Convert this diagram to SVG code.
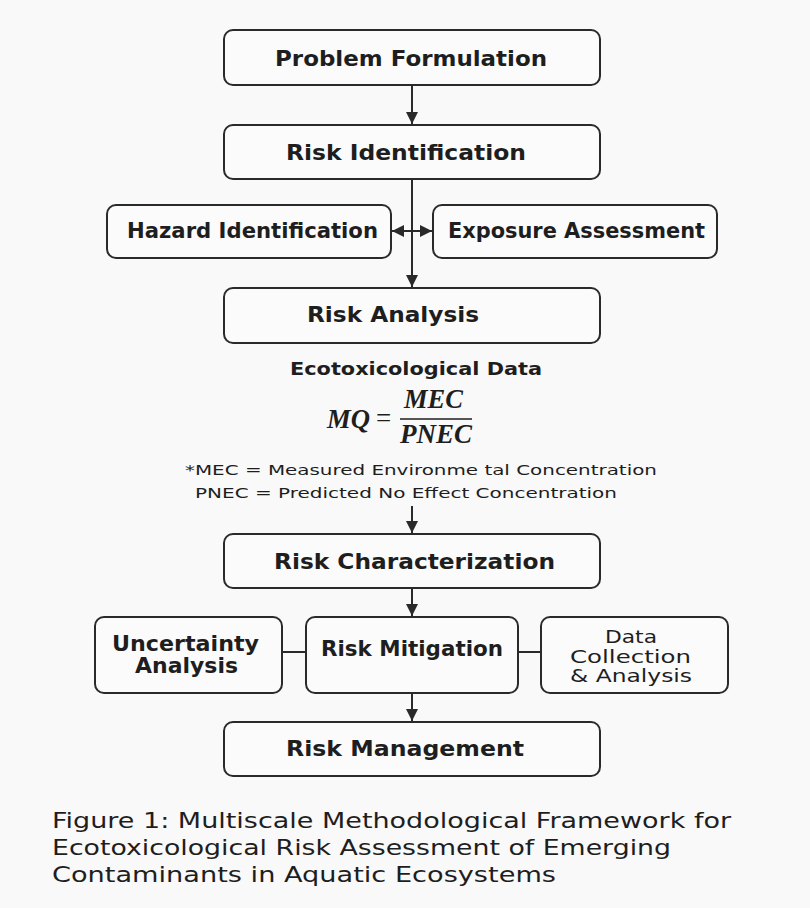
<svg xmlns="http://www.w3.org/2000/svg" width="810" height="908" viewBox="0 0 810 908">
<defs>
<style>
.box{fill:#fbfbfb;stroke:#2a2a2a;stroke-width:2}
.lbl{font-family:"DejaVu Sans","Liberation Sans",sans-serif;font-weight:700;font-size:21px;fill:#1e1e1e}
.reg{font-family:"DejaVu Sans","Liberation Sans",sans-serif;font-size:17px;fill:#1e1e1e}
.ln{stroke:#2a2a2a;stroke-width:2;fill:none}
.fm{font-family:"Liberation Serif",serif;font-weight:700;font-style:italic;font-size:27px;fill:#1e1e1e}
.note{font-family:"DejaVu Sans","Liberation Sans",sans-serif;font-size:14.5px;fill:#1e1e1e}
.cap{font-family:"DejaVu Sans","Liberation Sans",sans-serif;font-size:21px;fill:#1e1e1e}
</style>
<marker id="ah" viewBox="0 0 10 10" refX="10" refY="5" markerWidth="6" markerHeight="6" orient="auto-start-reverse" markerUnits="strokeWidth">
<path d="M0,0 L10,5 L0,10 z" fill="#2a2a2a"/>
</marker>
</defs>
<rect width="810" height="908" fill="#f9f9f9"/>
<g id="connectors">
<line class="ln" x1="412" y1="86" x2="412" y2="124" marker-end="url(#ah)"/>
<line class="ln" x1="412" y1="180" x2="412" y2="287" marker-end="url(#ah)"/>
<line class="ln" x1="392" y1="231" x2="432" y2="231" marker-start="url(#ah)" marker-end="url(#ah)"/>
<line class="ln" x1="412" y1="506" x2="412" y2="533" marker-end="url(#ah)"/>
<line class="ln" x1="412" y1="589" x2="412" y2="616" marker-end="url(#ah)"/>
<line class="ln" x1="282" y1="652" x2="306" y2="652"/>
<line class="ln" x1="518" y1="652" x2="541" y2="652"/>
<line class="ln" x1="412" y1="694" x2="412" y2="721" marker-end="url(#ah)"/>
</g>
<g id="problem-formulation"><rect class="box" x="224" y="30" width="376" height="55" rx="9"/><text class="lbl" x="275" y="66" textLength="272" lengthAdjust="spacingAndGlyphs">Problem Formulation</text></g>
<g id="risk-identification"><rect class="box" x="224" y="125" width="376" height="54" rx="9"/><text class="lbl" x="286" y="160" textLength="240" lengthAdjust="spacingAndGlyphs">Risk Identification</text></g>
<g id="hazard-identification"><rect class="box" x="107" y="205" width="284" height="53" rx="9"/><text class="lbl" x="127" y="238" textLength="251" lengthAdjust="spacingAndGlyphs">Hazard Identification</text></g>
<g id="exposure-assessment"><rect class="box" x="433" y="205" width="284" height="53" rx="9"/><text class="lbl" x="448" y="238" textLength="257" lengthAdjust="spacingAndGlyphs">Exposure Assessment</text></g>
<g id="risk-analysis"><rect class="box" x="224" y="288" width="376" height="55" rx="9"/><text class="lbl" x="307" y="322" textLength="172" lengthAdjust="spacingAndGlyphs">Risk Analysis</text></g>
<g id="ecotox-data">
<text class="lbl" x="290" y="375" style="font-size:18px" textLength="252" lengthAdjust="spacingAndGlyphs">Ecotoxicological Data</text>
<text class="fm" x="327" y="428" textLength="43" lengthAdjust="spacingAndGlyphs">MQ</text>
<text class="fm" x="376" y="427" style="font-style:normal;font-weight:400">=</text>
<line x1="400" y1="419" x2="472" y2="419" stroke="#1e1e1e" stroke-width="1.6"/>
<text class="fm" x="404" y="408" textLength="59" lengthAdjust="spacingAndGlyphs">MEC</text>
<text class="fm" x="400" y="443" textLength="72" lengthAdjust="spacingAndGlyphs">PNEC</text>
<text class="note" x="185" y="475" textLength="472" lengthAdjust="spacingAndGlyphs">*MEC = Measured Environme tal Concentration</text>
<text class="note" x="195" y="498" textLength="422" lengthAdjust="spacingAndGlyphs">PNEC = Predicted No Effect Concentration</text>
</g>
<g id="risk-characterization"><rect class="box" x="224" y="534" width="376" height="54" rx="9"/><text class="lbl" x="274" y="569" textLength="281" lengthAdjust="spacingAndGlyphs">Risk Characterization</text></g>
<g id="uncertainty-analysis"><rect class="box" x="95" y="617" width="187" height="76" rx="9"/><text class="lbl" x="112" y="651" textLength="147" lengthAdjust="spacingAndGlyphs">Uncertainty</text><text class="lbl" x="135" y="673" textLength="103" lengthAdjust="spacingAndGlyphs">Analysis</text></g>
<g id="risk-mitigation"><rect class="box" x="306" y="617" width="212" height="76" rx="9"/><text class="lbl" x="321" y="656" textLength="182" lengthAdjust="spacingAndGlyphs">Risk Mitigation</text></g>
<g id="data-collection"><rect class="box" x="541" y="617" width="187" height="76" rx="9"/><text class="reg" x="605" y="643" textLength="52" lengthAdjust="spacingAndGlyphs">Data</text><text class="reg" x="570" y="663" textLength="121" lengthAdjust="spacingAndGlyphs">Collection</text><text class="reg" x="570" y="682" textLength="122" lengthAdjust="spacingAndGlyphs">&amp; Analysis</text></g>
<g id="risk-management"><rect class="box" x="224" y="722" width="376" height="54" rx="9"/><text class="lbl" x="286" y="756" textLength="238" lengthAdjust="spacingAndGlyphs">Risk Management</text></g>
<g id="caption">
<text class="cap" x="52" y="828" textLength="679" lengthAdjust="spacingAndGlyphs">Figure 1: Multiscale Methodological Framework for</text>
<text class="cap" x="52" y="855" textLength="619" lengthAdjust="spacingAndGlyphs">Ecotoxicological Risk Assessment of Emerging</text>
<text class="cap" x="52" y="882" textLength="504" lengthAdjust="spacingAndGlyphs">Contaminants in Aquatic Ecosystems</text>
</g>
</svg>
